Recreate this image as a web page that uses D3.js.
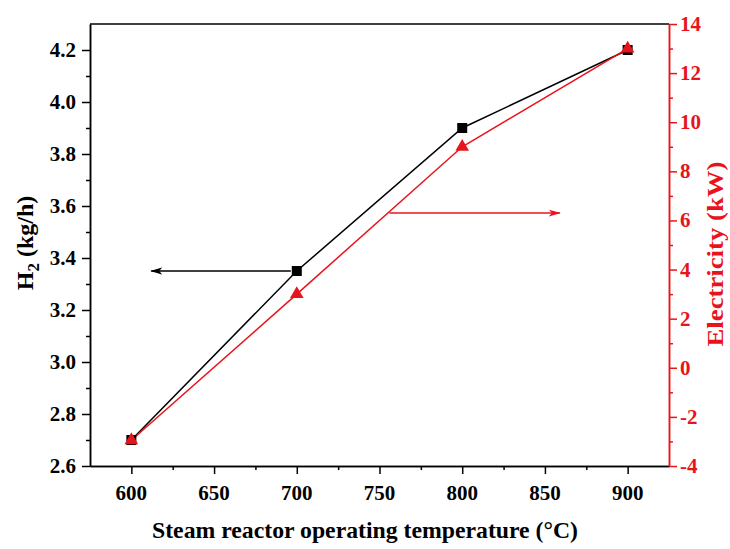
<!DOCTYPE html>
<html><head><meta charset="utf-8">
<script src="https://cdn.jsdelivr.net/npm/d3@7"></script>
<style>body{margin:0;background:#fff}svg{display:block}
text.tl{font-family:'Liberation Serif','Times New Roman',serif;font-weight:bold;font-size:21px}</style>
</head><body>
<svg id="c" width="730" height="549"></svg>
<script>
const temperatures = [600, 700, 800, 900];
const h2Values = [2.7, 3.35, 3.9, 4.2];
const electricityValues = [-2.95, 3.0, 9.0, 13.0];
const xTicks = [600, 650, 700, 750, 800, 850, 900];
const xMinorTicks = [625, 675, 725, 775, 825, 875];
const leftTicks = [2.6, 2.8, 3.0, 3.2, 3.4, 3.6, 3.8, 4.0, 4.2];
const rightTicks = [-4, -2, 0, 2, 4, 6, 8, 10, 12, 14];
const xLabel = "Steam reactor operating temperature (°C)";
const rightLabel = "Electricity (kW)";

const svg = d3.select("#c");
const L = 90, R = 669, T = 24, B = 466;
const font = "'Liberation Serif', 'Times New Roman', serif";
const red = "#e8141c";

const x = d3.scaleLinear().domain([575, 925]).range([L, R]);
const yL = d3.scaleLinear().domain([2.6, 4.3]).range([B, T]);
const yR = d3.scaleLinear().domain([-4, 14]).range([B, T]);

function minors(major) {
  const out = [];
  for (let i = 0; i < major.length - 1; i++) out.push(+((major[i] + major[i+1]) / 2).toFixed(4));
  return out;
}

svg.append("line").attr("x1", L).attr("x2", R).attr("y1", T).attr("y2", T)
  .attr("stroke", "#000").attr("stroke-width", 1.5);

function styleAxis(g, color) {
  g.select(".domain").attr("stroke", color).attr("stroke-width", 1.5);
  g.selectAll(".tick line").attr("stroke", color).attr("stroke-width", 1.5);
  g.selectAll(".tick text").remove();
}

// X axis
styleAxis(svg.append("g").attr("transform", `translate(0,${B})`)
  .call(d3.axisBottom(x).tickValues(xMinorTicks).tickSize(4).tickSizeOuter(0)), "#000");
styleAxis(svg.append("g").attr("transform", `translate(0,${B})`)
  .call(d3.axisBottom(x).tickValues(xTicks).tickSize(8).tickSizeOuter(0)), "#000");
svg.append("g").selectAll("text").data(xTicks).enter().append("text").attr("class", "tl")
  .attr("x", d => x(d)).attr("y", 500).attr("text-anchor", "middle").attr("fill", "#000")
  .text(d3.format("d"));

// Left axis
styleAxis(svg.append("g").attr("transform", `translate(${L},0)`)
  .call(d3.axisLeft(yL).tickValues(minors(leftTicks)).tickSize(4).tickSizeOuter(0)), "#000");
styleAxis(svg.append("g").attr("transform", `translate(${L},0)`)
  .call(d3.axisLeft(yL).tickValues(leftTicks).tickSize(8).tickSizeOuter(0)), "#000");
svg.append("g").selectAll("text").data(leftTicks).enter().append("text").attr("class", "tl")
  .attr("x", 76).attr("y", d => yL(d) + 7).attr("text-anchor", "end").attr("fill", "#000")
  .text(d3.format(".1f"));

// Right axis
styleAxis(svg.append("g").attr("transform", `translate(${R},0)`)
  .call(d3.axisRight(yR).tickValues(minors(rightTicks)).tickSize(4).tickSizeOuter(0)), red);
styleAxis(svg.append("g").attr("transform", `translate(${R},0)`)
  .call(d3.axisRight(yR).tickValues(rightTicks).tickSize(8).tickSizeOuter(0)), red);
svg.append("g").selectAll("text").data(rightTicks).enter().append("text").attr("class", "tl")
  .attr("x", 680).attr("y", d => yR(d) + 7).attr("text-anchor", "start").attr("fill", red)
  .text(d => d);

// Axis titles
svg.append("text").attr("x", 365).attr("y", 538).attr("text-anchor", "middle")
  .attr("font-family", font).attr("font-weight", "bold").attr("font-size", 24).attr("fill", "#000")
  .attr("textLength", 426).attr("lengthAdjust", "spacingAndGlyphs")
  .text(xLabel);

const lt = svg.append("text").attr("transform", `translate(33,243) rotate(-90)`)
  .attr("text-anchor", "middle").attr("font-family", font).attr("font-weight", "bold")
  .attr("font-size", 24).attr("fill", "#000");
lt.append("tspan").text("H");
lt.append("tspan").attr("dy", 6).attr("font-size", 17).text("2");
lt.append("tspan").attr("dy", -6).text(" (kg/h)");

svg.append("text").attr("transform", `translate(723,254) rotate(-90)`)
  .attr("text-anchor", "middle").attr("font-family", font).attr("font-weight", "bold")
  .attr("font-size", 23).attr("fill", red)
  .attr("textLength", 185).attr("lengthAdjust", "spacingAndGlyphs")
  .text(rightLabel);

// Lines
const h2Data = temperatures.map((t, i) => [t, h2Values[i]]);
const elData = temperatures.map((t, i) => [t, electricityValues[i]]);

svg.append("path").datum(h2Data)
  .attr("d", d3.line().x(d => x(d[0])).y(d => yL(d[1])))
  .attr("fill", "none").attr("stroke", "#000").attr("stroke-width", 1.5);
svg.append("path").datum(elData)
  .attr("d", d3.line().x(d => x(d[0])).y(d => yR(d[1])))
  .attr("fill", "none").attr("stroke", red).attr("stroke-width", 1.5);

svg.selectAll(".sq").data(h2Data).enter().append("rect")
  .attr("x", d => x(d[0]) - 5).attr("y", d => yL(d[1]) - 5)
  .attr("width", 10).attr("height", 10).attr("fill", "#000");
svg.selectAll(".tri").data(elData).enter().append("path")
  .attr("transform", d => `translate(${x(d[0])},${yR(d[1])})`)
  .attr("d", d3.symbol().type(d3.symbolTriangle).size(80)).attr("fill", red);

// Arrows
const defs = svg.append("defs");
function marker(id, color) {
  defs.append("marker").attr("id", id).attr("viewBox", "0 0 12 8").attr("refX", 11).attr("refY", 4)
    .attr("markerWidth", 12).attr("markerHeight", 8).attr("markerUnits", "userSpaceOnUse")
    .attr("orient", "auto")
    .append("path").attr("d", "M0,0.5 L12,4 L0,7.5 L3,4 Z").attr("fill", color);
}
marker("ab", "#000"); marker("ar", red);
svg.append("line").attr("x1", x(700) - 6).attr("y1", yL(3.35)).attr("x2", x(612)).attr("y2", yL(3.35))
  .attr("stroke", "#000").attr("stroke-width", 1.5).attr("marker-end", "url(#ab)");
svg.append("line").attr("x1", x(756)).attr("y1", yR(6.3)).attr("x2", x(859)).attr("y2", yR(6.3))
  .attr("stroke", red).attr("stroke-width", 1.5).attr("marker-end", "url(#ar)");
</script>
</body></html>
